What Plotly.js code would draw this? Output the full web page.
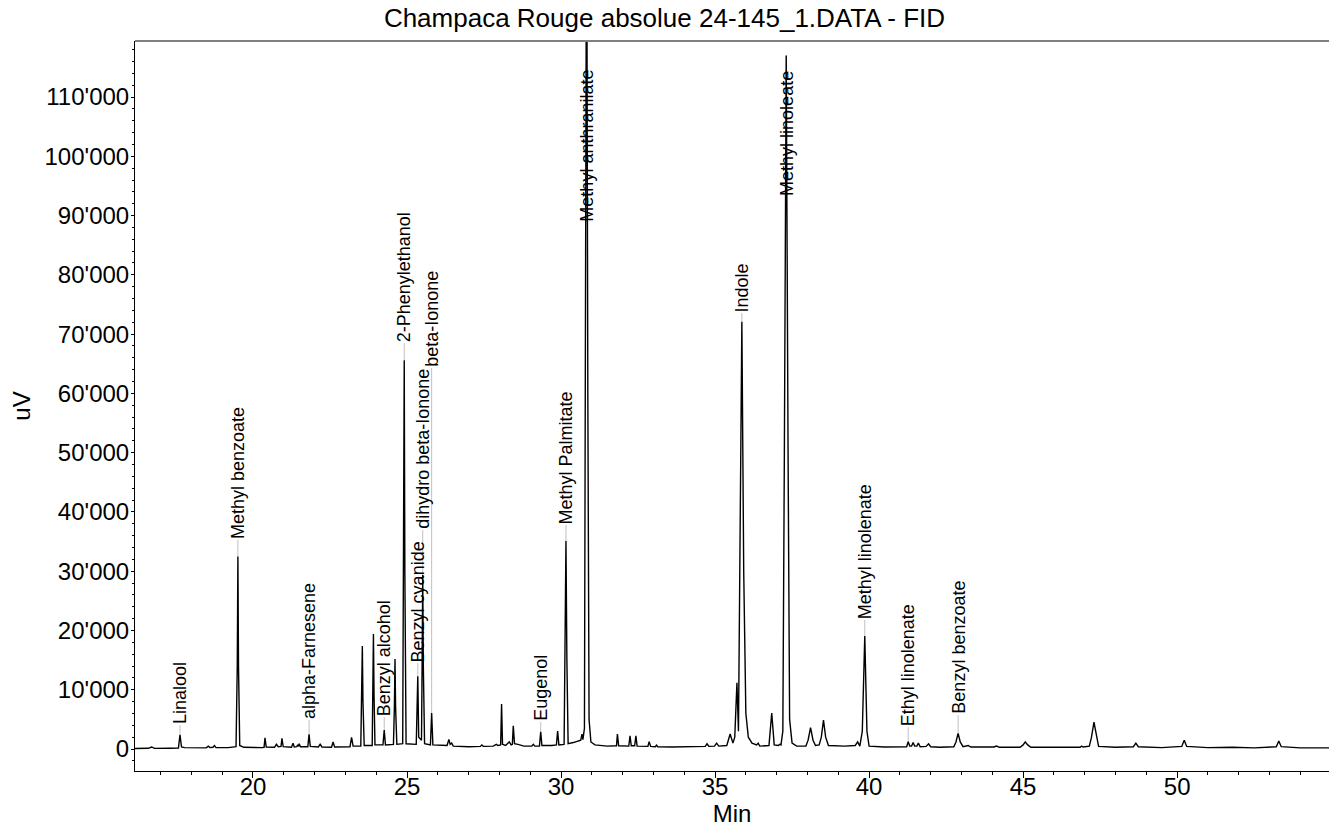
<!DOCTYPE html>
<html><head><meta charset="utf-8">
<script src="https://cdn.plot.ly/plotly-3.0.1.min.js"></script>
<style>html,body{margin:0;padding:0;background:#fff}#chart{width:1329px;height:828px}</style>
</head><body><div id="chart"></div>
<script>
// Chromatogram trace (min, uV)
const retentionTime = [
16.17,16.60,16.71,16.80,17.30,17.58,17.63,17.68,17.78,18.20,18.48,18.55,18.60,18.70,18.75,18.80,19.20,19.45,19.49,19.51,19.53,19.57,19.70,
20.30,20.36,20.39,20.43,20.70,20.76,20.82,20.91,20.94,20.98,21.25,21.30,21.34,21.42,21.45,21.48,21.50,21.54,21.78,21.82,21.86,22.12,22.18,22.24,22.55,22.60,22.65,
23.15,23.20,23.25,23.50,23.53,23.55,23.57,23.61,23.87,23.89,23.91,23.93,23.96,24.22,24.26,24.30,24.56,24.59,24.61,24.63,24.67,24.86,24.89,24.91,24.93,24.97,
25.30,25.33,25.35,25.38,25.47,25.49,25.51,25.53,25.57,25.76,25.80,25.84,26.30,26.36,26.40,26.45,26.50,27.00,27.38,27.43,27.48,27.80,27.90,27.95,
28.04,28.07,28.10,28.20,28.32,28.38,28.42,28.45,28.49,28.60,28.80,29.05,29.10,29.15,29.30,29.34,29.38,29.70,29.85,29.89,29.93,
30.10,30.13,30.16,30.19,30.23,30.40,30.55,30.64,30.68,30.71,30.76,30.79,30.83,30.87,30.91,30.97,31.10,31.50,31.80,31.83,31.87,
32.20,32.24,32.28,32.39,32.43,32.47,32.82,32.86,32.91,33.06,33.10,33.14,33.60,34.10,34.20,34.30,34.68,34.74,34.80,34.98,35.05,35.12,
35.38,35.49,35.58,35.64,35.71,35.76,35.80,35.87,35.93,36.00,36.08,36.20,36.35,36.40,36.45,36.75,36.84,36.92,37.05,37.10,37.14,
37.20,37.25,37.31,37.37,37.42,37.50,37.65,37.95,38.02,38.10,38.18,38.26,38.38,38.45,38.52,38.59,38.68,39.20,39.55,39.63,39.70,
39.78,39.86,39.93,40.00,40.50,40.80,41.00,41.22,41.27,41.32,41.38,41.43,41.48,41.55,41.60,41.66,41.85,41.93,42.00,42.30,
42.75,42.82,42.89,42.96,43.05,43.22,43.30,43.80,44.05,44.14,44.23,44.90,45.00,45.07,45.15,45.25,46.85,46.90,46.95,
47.15,47.22,47.30,47.38,47.45,48.00,48.58,48.66,48.74,49.50,50.15,50.23,50.31,51.00,51.80,52.50,53.22,53.30,53.38,54.00,54.93
];
const signal = [
100,130,350,120,150,180,2400,350,250,160,200,500,250,300,600,250,250,400,14000,32500,14000,600,300,
250,300,1900,350,300,800,400,450,1800,400,300,1000,350,400,700,450,900,400,400,2480,450,350,800,350,300,1180,350,
400,1970,500,500,8000,17380,8000,600,600,9000,19400,9000,700,700,3200,700,800,7000,15180,7000,800,900,30000,65600,30000,900,
800,6000,12300,2000,1500,14000,29350,14000,900,700,6070,700,600,1640,800,1000,500,400,450,700,450,500,800,600,
700,7600,800,600,1200,700,800,3930,900,800,500,500,800,500,500,2920,600,600,700,3040,700,
800,15000,35100,15000,900,1100,1300,1500,2530,1600,3500,60000,150000,60000,5000,1200,700,500,550,2530,550,
500,2250,550,550,2250,500,450,1230,450,400,650,400,350,400,500,400,450,900,450,500,1000,500,
600,2530,1000,2000,11190,3000,30000,72100,30000,6000,2000,1000,700,1000,500,600,6070,700,600,800,700,
3000,50000,117000,50000,5000,1000,500,500,1500,3600,1500,600,700,2000,4900,2000,600,500,600,1200,500,
3000,19060,3000,500,350,400,350,400,1230,500,500,1100,500,500,1000,400,450,900,400,300,
400,1200,2650,1200,400,600,350,300,350,500,300,300,700,1200,700,300,300,500,350,
500,2000,4550,2000,450,300,400,1000,400,250,450,1500,450,250,300,200,400,1350,400,200,200
];

// Peak labels
const peakNames = ["Linalool","Methyl benzoate","alpha-Farnesene","Benzyl alcohol","2-Phenylethanol","Benzyl cyanide",
  "dihydro beta-Ionone","beta-Ionone","Eugenol","Methyl Palmitate","Methyl anthranilate","Indole","Methyl linoleate",
  "Methyl linolenate","Ethyl linolenate","Benzyl benzoate"];
const peakTime = [17.63,19.51,21.82,24.26,24.91,25.35,25.51,25.80,29.34,30.16,30.83,35.87,37.31,39.86,41.27,42.89];
const peakApex = [2400,32500,2480,3200,65600,12300,29350,6070,2920,35100,119000,72100,117000,19060,1230,2650];
const labelBase = [4050,35260,4900,5400,68500,14500,36950,64270,4550,37800,88740,73550,93100,21760,3710,5740];

const FONT = "Liberation Sans, Arial, sans-serif";

const connX = [], connY = [];
peakTime.forEach((t, i) => { connX.push(t, t, null); connY.push(peakApex[i], labelBase[i], null); });

const traces = [
  {x: connX, y: connY, type: "scatter", mode: "lines", line: {color: "#c0c0c0", width: 1}, hoverinfo: "skip", showlegend: false},
  {x: retentionTime, y: signal, type: "scatter", mode: "lines", line: {color: "#000", width: 1.4}, showlegend: false}
];

const annotations = peakNames.map((n, i) => ({
  text: n, x: peakTime[i], y: labelBase[i], xref: "x", yref: "y",
  textangle: -90, xanchor: "center", yanchor: "bottom", showarrow: false,
  borderpad: 0, font: {family: FONT, size: 18, color: "#000"}
}));

const layout = {
  width: 1329, height: 828,
  paper_bgcolor: "#fff", plot_bgcolor: "#fff",
  separators: ".'",
  margin: {l: 135, r: 0, t: 41, b: 57},
  font: {family: FONT, color: "#000"},
  title: {text: "Champaca Rouge absolue 24-145_1.DATA - FID", font: {family: FONT, size: 26, color: "#000"},
          x: 0.5, xref: "container", y: 0.978, yref: "container", yanchor: "middle"},
  xaxis: {range: [16.17, 54.93], tickmode: "linear", tick0: 0, dtick: 5, ticks: "outside", ticklen: 6, tickcolor: "#000",
          showline: true, linecolor: "#000", linewidth: 1, showgrid: false, zeroline: false,
          ticklabelstandoff: -12,
          minor: {dtick: 1, ticks: "outside", ticklen: 3, tickcolor: "#000", showgrid: false},
          tickfont: {family: FONT, size: 24, color: "#000"},
          title: {text: "Min", font: {family: FONT, size: 24, color: "#000"}, standoff: 0}},
  yaxis: {range: [-3700, 119450], tickmode: "linear", tick0: 0, dtick: 10000, tickformat: ",d", ticks: "outside", ticklen: 3, tickcolor: "#000",
          showline: true, linecolor: "#000", linewidth: 1, showgrid: false, zeroline: false,
          ticklabelstandoff: -3,
          minor: {dtick: 2000, ticks: "outside", ticklen: 2, tickcolor: "#000", showgrid: false},
          tickfont: {family: FONT, size: 24, color: "#000"},
          title: {text: "uV", font: {family: FONT, size: 24, color: "#000"}, standoff: 7}},
  shapes: [{type: "line", xref: "paper", yref: "paper", x0: 0, x1: 1, y0: 1, y1: 1, line: {color: "#808080", width: 2}}],
  annotations: annotations
};

Plotly.newPlot("chart", traces, layout, {displayModeBar: false, staticPlot: true});
</script>
</body></html>
